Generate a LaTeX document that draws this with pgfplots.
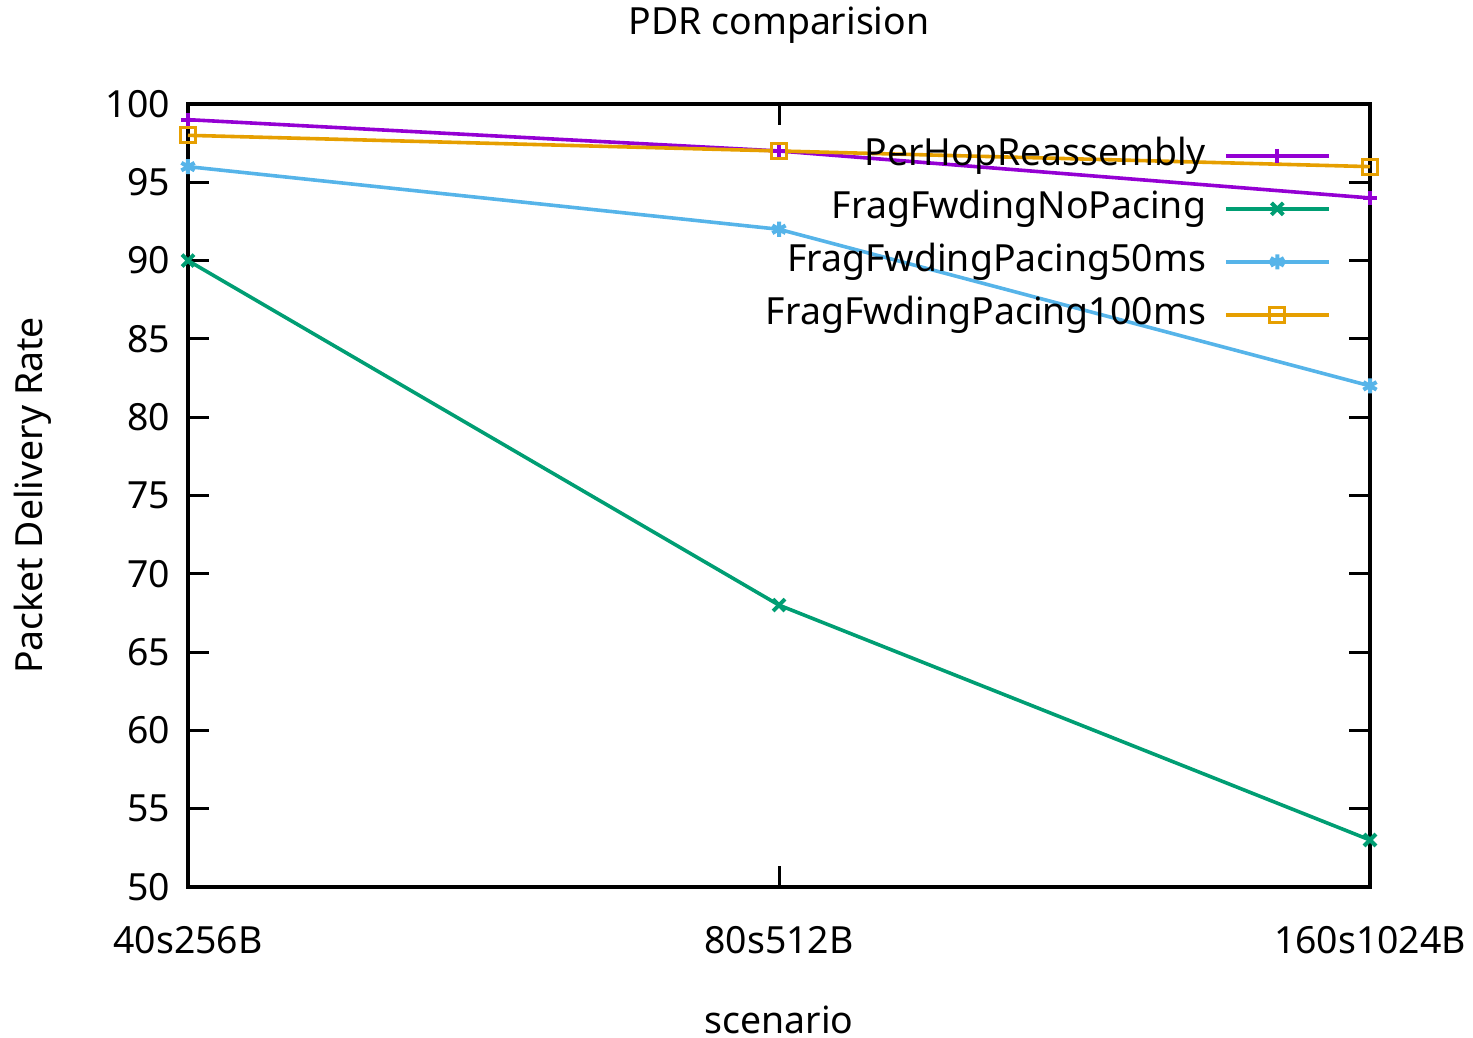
\documentclass[border=0pt]{standalone}
\usepackage{pgfplots}
\pgfplotsset{compat=1.18}
\usepackage{fontspec}
\setmainfont{Noto Sans}
\definecolor{cpurple}{HTML}{9400D3}
\definecolor{cgreen}{HTML}{009E73}
\definecolor{cblue}{HTML}{56B4E9}
\definecolor{corange}{HTML}{E69F00}
\begin{document}
\begin{tikzpicture}
\path[use as bounding box] (-94pt,-75.5pt) rectangle (642.5pt,443.5pt);
\begin{axis}[
  at={(0,0)}, anchor=south west,
  scale only axis,
  width=591pt, height=391.5pt,
  xmin=0, xmax=2, ymin=50, ymax=100,
  xtick={0,1,2},
  xticklabels={40s256B,80s512B,160s1024B},
  ytick={50,55,...,100},
  tick align=inside,
  major tick length=10.5pt,
  tick style={line width=1.5pt, black},
  axis line style={line width=2pt},
  /pgf/number format/assume math mode=true,
  font=\fontsize{18.7}{22}\selectfont,
  xticklabel style={yshift=-16pt},
  yticklabel style={xshift=-5.5pt},
  every axis title shift=0pt,
  title={PDR comparision},
  title style={at={(axis description cs:0.5,1.1009)}, anchor=center, yshift=0pt},
  xlabel={scenario},
  xlabel style={at={(axis description cs:0.5,-0.1699)}, anchor=center, inner sep=0pt},
  ylabel={Packet Delivery Rate},
  ylabel style={at={(axis description cs:-0.131,0.5)}, anchor=center, rotate=0},
  legend plot pos=right,
  legend cell align=right,
  legend style={draw=none, fill=none, inner sep=0pt,
    at={(axis description cs:0.967,0.956)}, anchor=north east,
    row sep=9.5pt, column sep=9pt,
    nodes={inner sep=0pt, text height=13.5pt, text depth=3.5pt}},
  legend image code/.code={\draw[mark repeat=2,mark phase=2] plot coordinates {(0pt,0pt)(25.75pt,0pt)(51.5pt,0pt)};},
  every axis plot/.append style={line width=1.8pt, mark size=3.5pt, mark options={line width=2pt, solid}},
]
\addplot[cpurple, mark=+] coordinates {(0,99) (1,97) (2,94)};
\addlegendentry{PerHopReassembly}
\addplot[cgreen, mark=x, mark size=4.2pt] coordinates {(0,90) (1,68) (2,53)};
\addlegendentry{FragFwdingNoPacing}
\addplot[cblue, mark=asterisk, mark size=3.8pt] coordinates {(0,96) (1,92) (2,82)};
\addlegendentry{FragFwdingPacing50ms}
\addplot[corange, mark=square, mark size=3.8pt, mark options={line width=1.5pt}] coordinates {(0,98) (1,97) (2,96)};
\addlegendentry{FragFwdingPacing100ms}
\end{axis}
\end{tikzpicture}
\end{document}
